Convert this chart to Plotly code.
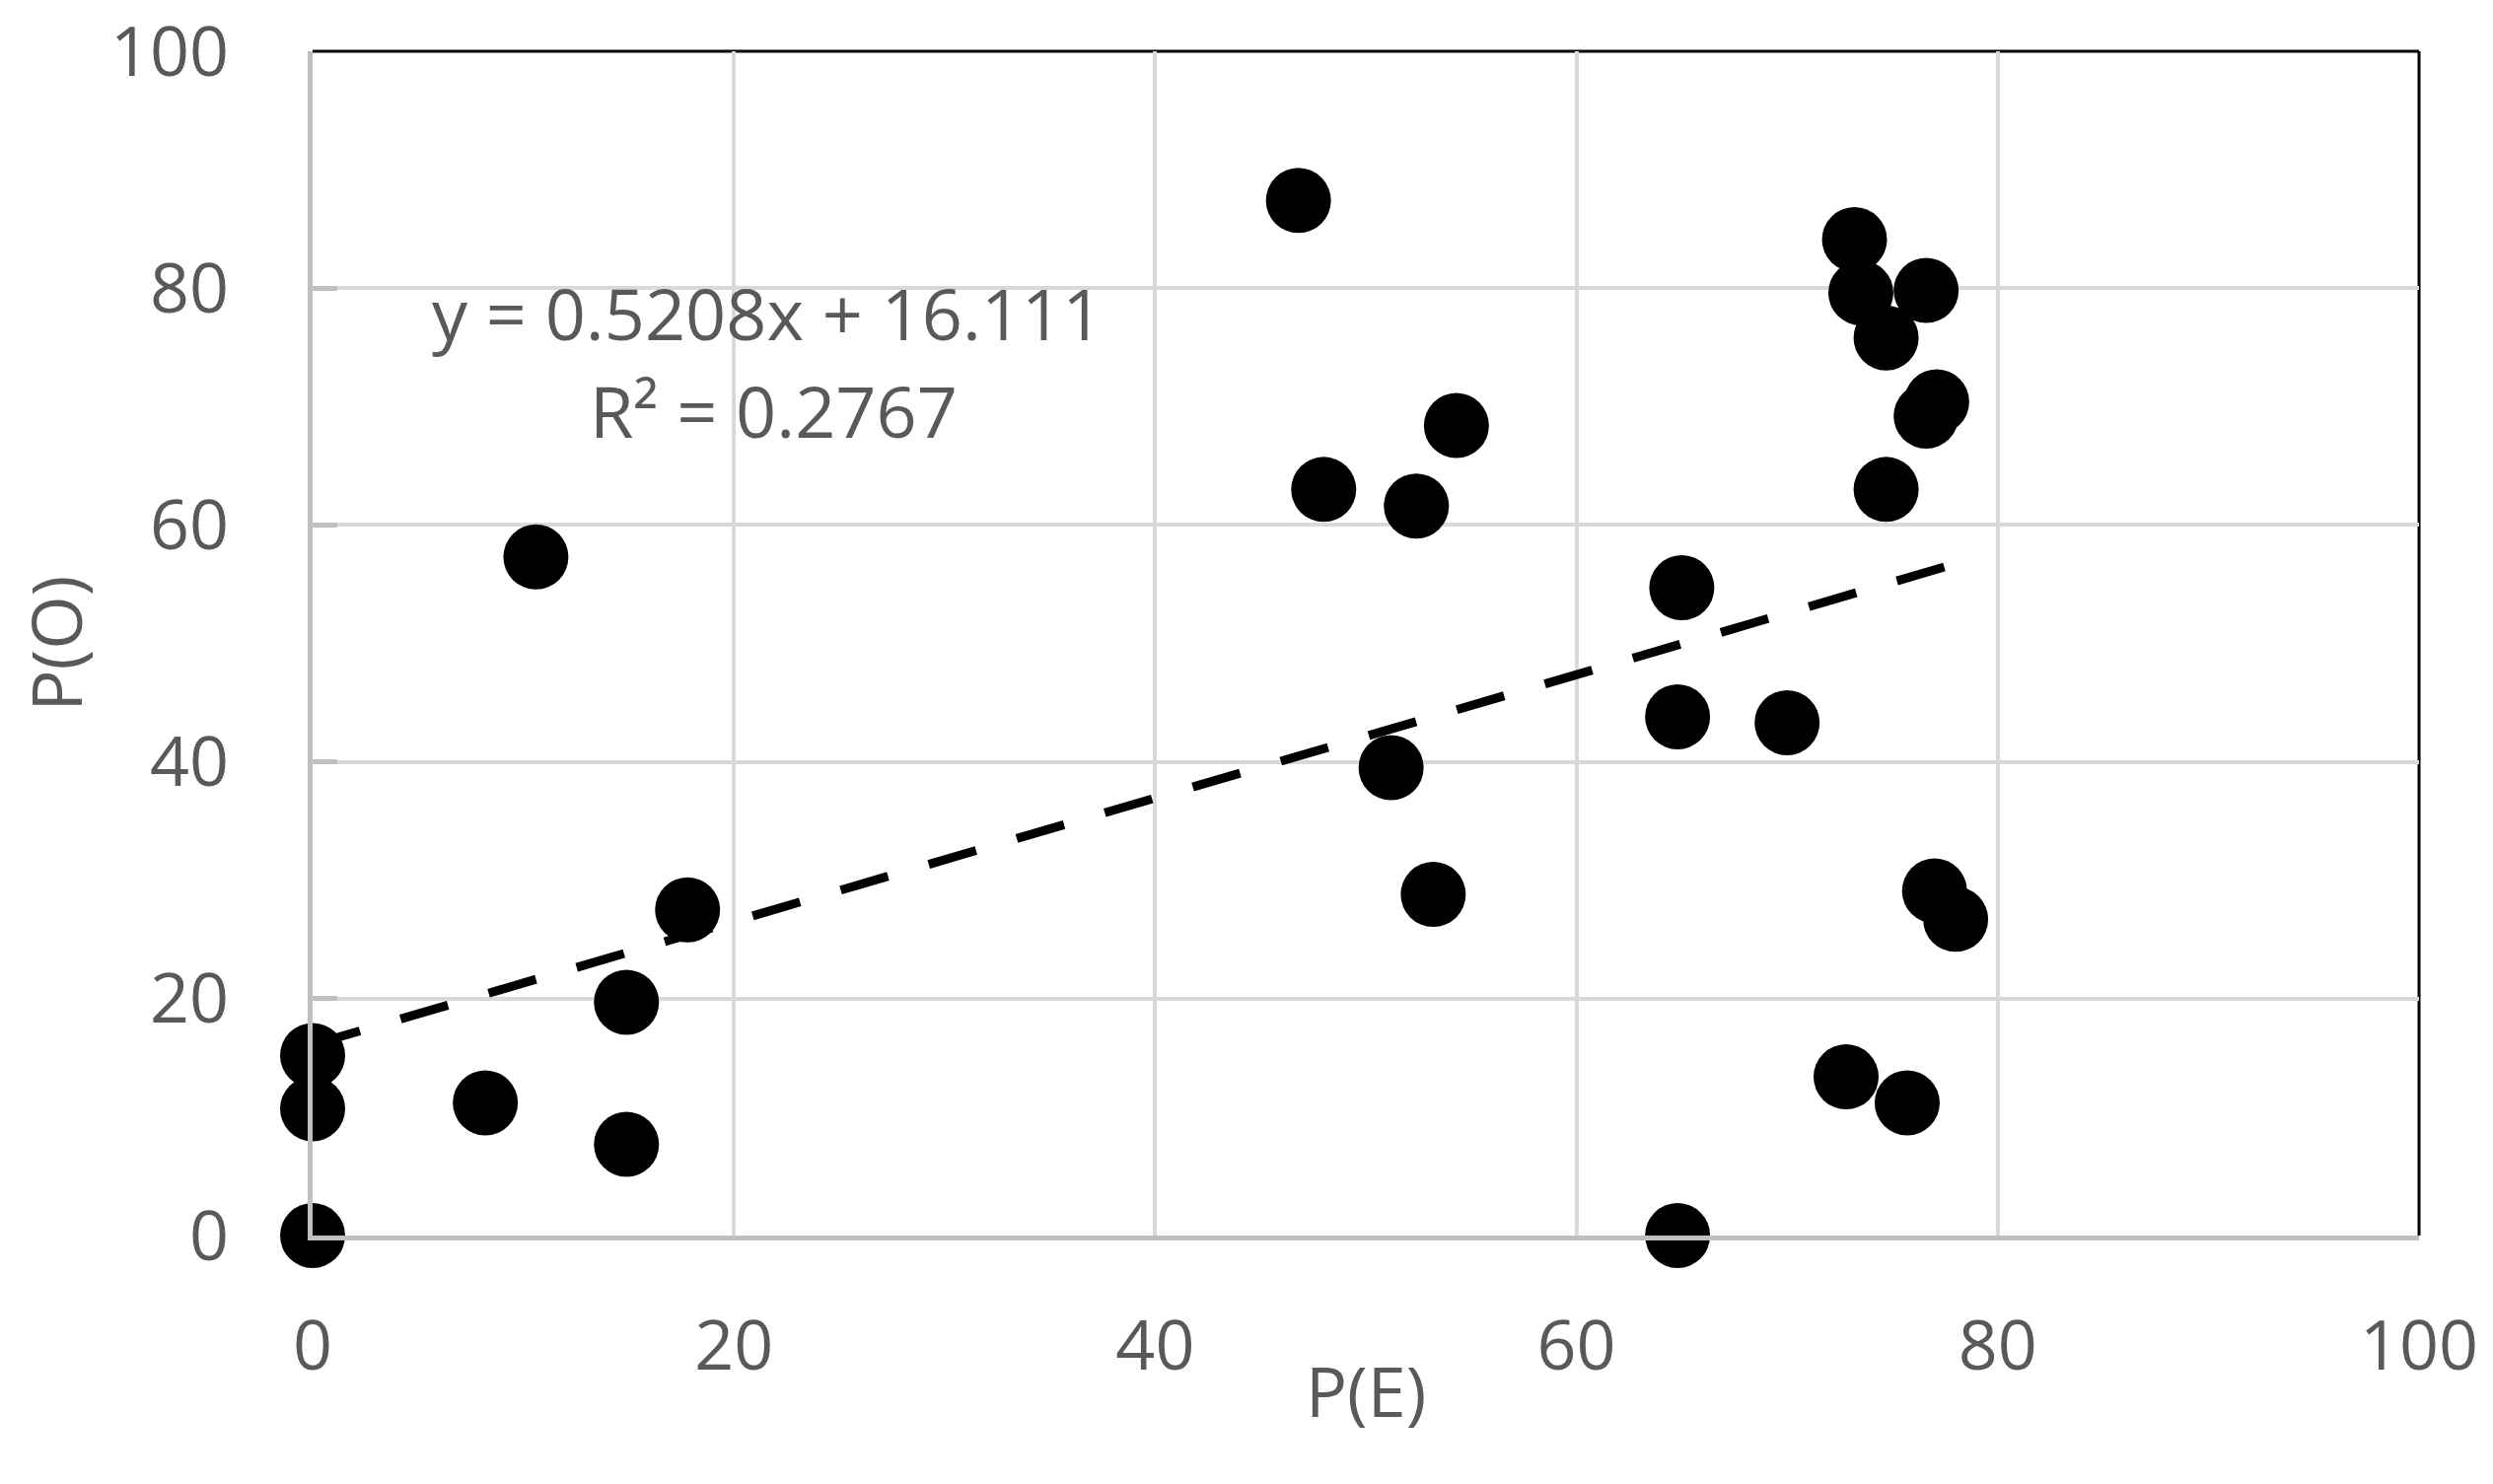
import plotly.graph_objects as go

# Data
p_e = [0.0, 0.0, 0.0, 8.2, 10.6, 14.9, 14.9, 17.8,
       46.8, 48.0, 52.4, 54.3, 51.2, 53.2,
       65.0, 64.8, 64.8, 70.0,
       73.2, 73.5, 74.7, 74.7, 76.6, 76.6, 77.1, 77.0, 78.0, 72.8, 75.7]
p_o = [0.0, 10.7, 15.2, 11.2, 57.3, 19.7, 7.7, 27.5,
       87.4, 63.0, 61.6, 68.4, 39.5, 28.8,
       54.7, 43.8, 0.0, 43.3,
       84.1, 79.6, 75.8, 63.0, 79.8, 69.2, 70.4, 29.1, 26.7, 13.4, 11.2]

slope = 0.5208
intercept = 16.111
r_squared = 0.2767

tick_vals = [0, 20, 40, 60, 80, 100]
tick_text = ["0", "20", "40", "60", "80", "100"]

FONT = "Open Sans"
GRAY_TXT = "#595959"

trend_x = [0.0, max(p_e)]
trend_y = [slope * x + intercept for x in trend_x]

fig = go.Figure()
fig.add_trace(go.Scatter(
    x=p_e, y=p_o, mode="markers",
    marker=dict(size=66, color="black", line=dict(width=0)),
    showlegend=False, cliponaxis=False, hoverinfo="skip",
))
fig.add_trace(go.Scatter(
    x=trend_x, y=trend_y, mode="lines",
    line=dict(color="black", width=9, dash="50px,43px"),
    showlegend=False, cliponaxis=False, hoverinfo="skip",
))

fig.update_layout(
    width=2528, height=1505,
    margin=dict(l=317, r=75, t=52, b=252),
    paper_bgcolor="white", plot_bgcolor="white",
    font=dict(family=FONT, size=70, color=GRAY_TXT),
    xaxis=dict(
        range=[0, 100], tickvals=tick_vals, ticktext=tick_text,
        showgrid=True, gridcolor="#d9d9d9", gridwidth=4,
        showline=True, linecolor="#bfbfbf", linewidth=5,
        zeroline=False, ticks="", ticklabelstandoff=47, automargin=False,
        ticklabeloverflow="allow",
        tickfont=dict(family=FONT, size=70, color=GRAY_TXT),
    ),
    yaxis=dict(
        range=[0, 100], tickvals=tick_vals, ticktext=tick_text,
        showgrid=True, gridcolor="#d9d9d9", gridwidth=4,
        showline=True, linecolor="#bfbfbf", linewidth=5,
        zeroline=False, ticks="inside", ticklen=25, tickwidth=5, tickcolor="#bfbfbf",
        ticklabelstandoff=66, automargin=False,
        ticklabeloverflow="allow",
        tickfont=dict(family=FONT, size=70, color=GRAY_TXT),
    ),
    shapes=[
        dict(type="line", xref="paper", yref="paper", x0=0, x1=1, y0=1, y1=1,
             line=dict(color="black", width=3), layer="below"),
        dict(type="line", xref="paper", yref="paper", x0=1, x1=1, y0=0, y1=1,
             line=dict(color="black", width=3), layer="below"),
    ],
    annotations=[
        dict(text="P(E)", xref="paper", yref="paper", x=0.5, y=0,
             xanchor="center", yanchor="middle", yshift=-157, showarrow=False,
             font=dict(family=FONT, size=70, color=GRAY_TXT)),
        dict(text="P(O)", xref="paper", yref="paper", x=0, y=0.5,
             xanchor="center", yanchor="middle", xshift=-262, textangle=-90,
             showarrow=False, font=dict(family=FONT, size=70, color=GRAY_TXT)),
        dict(text=f"y = {slope}x + {intercept}", xref="x", yref="y", x=21.6, y=77.9,
             xanchor="center", yanchor="middle", showarrow=False,
             font=dict(family=FONT, size=72, color=GRAY_TXT)),
        dict(text=f"R² = {r_squared}", xref="x", yref="y", x=21.9, y=69.7,
             xanchor="center", yanchor="middle", showarrow=False,
             font=dict(family=FONT, size=72, color=GRAY_TXT)),
    ],
)

fig.write_html(
    "out.html",
    config={"displayModeBar": False, "staticPlot": True},
    post_script="document.body.style.margin='0';document.body.style.overflow='hidden';",
)
